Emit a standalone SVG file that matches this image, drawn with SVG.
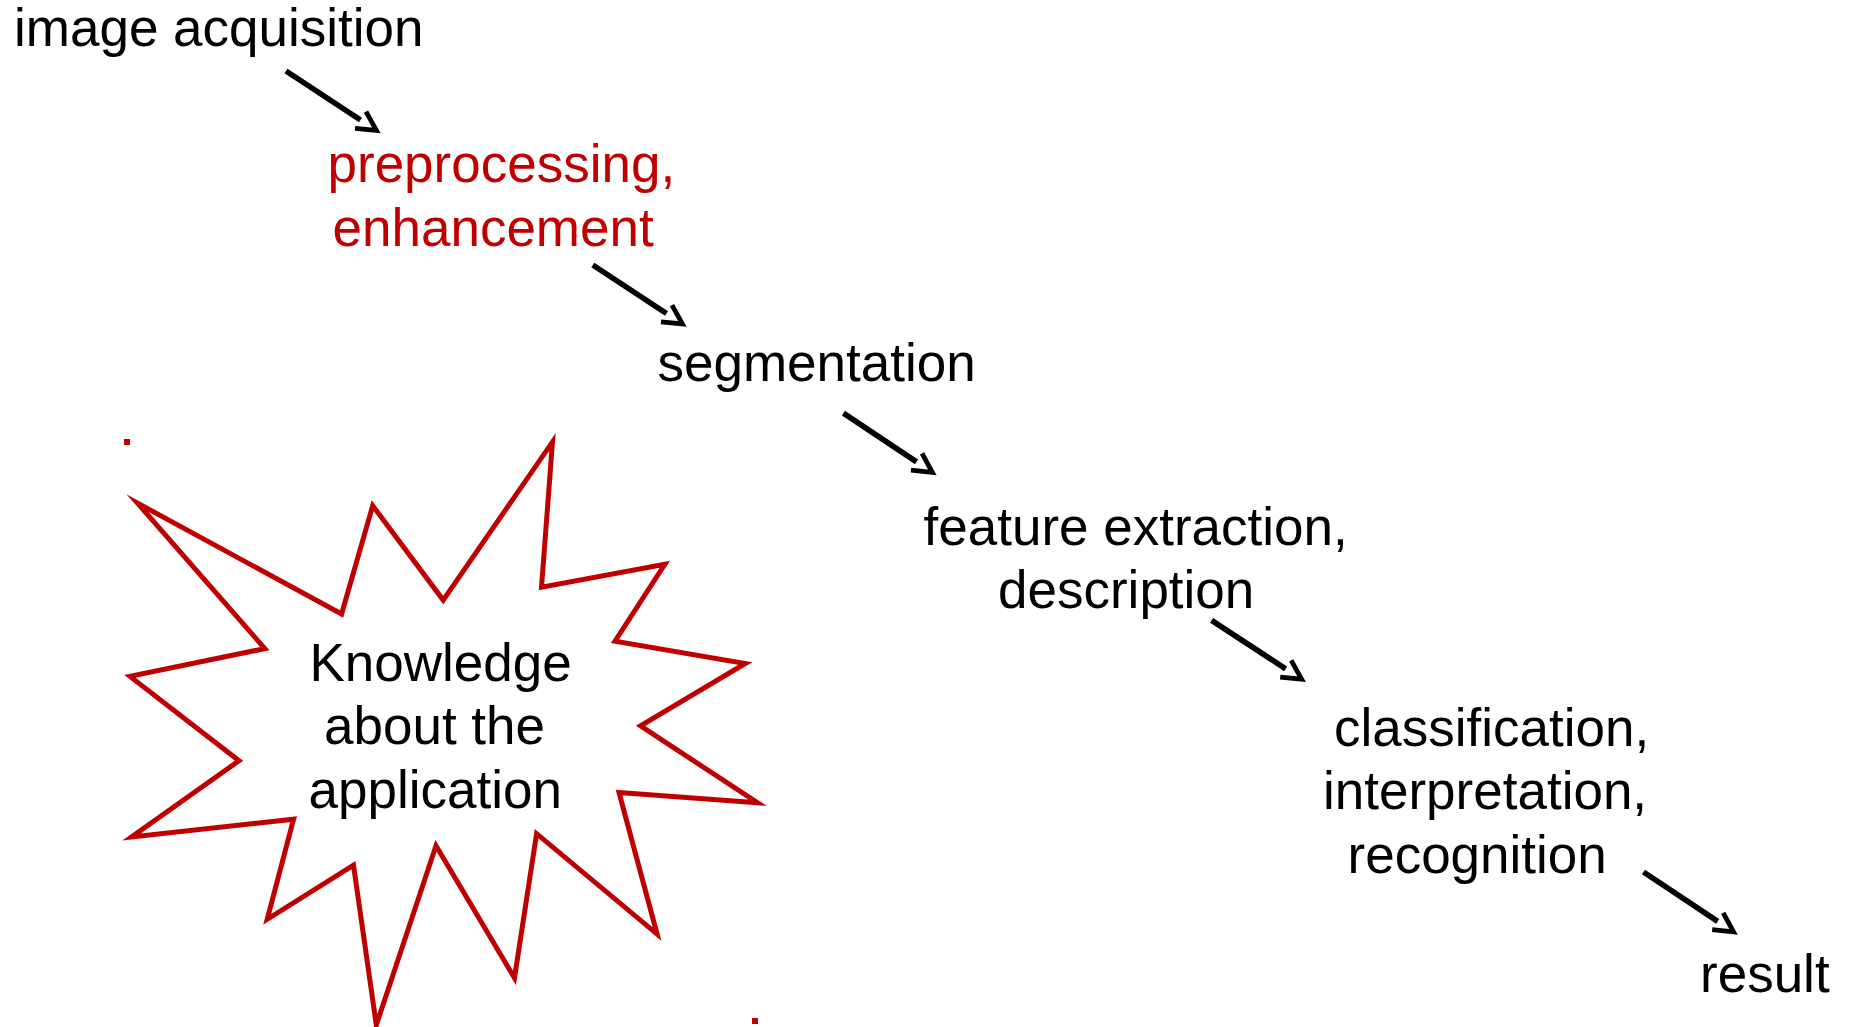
<svg xmlns="http://www.w3.org/2000/svg" width="1850" height="1027" viewBox="0 0 1850 1027">
  <style>
    .t { font-family: "Liberation Sans", Arial, sans-serif; font-size: 53px; fill: #000000; }
    .red { fill: #c00000; }
    .conn { stroke: #000000; stroke-width: 5.6; fill: none; marker-end: url(#ah); }
    .star { fill: #ffffff; stroke: #c00000; stroke-width: 5; stroke-linejoin: miter; stroke-miterlimit: 10; }
  </style>
  <defs>
    <marker id="ah" markerUnits="userSpaceOnUse" orient="auto" refX="0" refY="0" markerWidth="40" markerHeight="40" overflow="visible">
      <path d="M0,-10 L19,0 L0,10" fill="none" stroke="#000000" stroke-width="4.8" stroke-linejoin="miter"/>
    </marker>
  </defs>
  <rect x="0" y="0" width="1850" height="1027" fill="#ffffff"/>

  <g id="knowledge">
    <rect x="124" y="439" width="6" height="6" fill="#c00000"/>
    <rect x="752" y="1018" width="6" height="6" fill="#c00000"/>
    <polygon class="star" points="552.5,441.9 541.5,587.2 664.8,564.3 615,641.2 745.3,663.5 640.5,725.9 757.5,802.7 619,792.5 657.1,934.1 536.6,833.7 514.5,978 436,845.8 376.3,1025 353.5,865.1 267.2,919.3 293.6,819.2 131.5,837 239,760.7 130,676.4 264.8,648.6 137.5,503.1 341.6,614 372.7,505.7 443.2,600.1"/>
    <text class="t" x="309.5" y="680.5">Knowledge</text>
    <text class="t" x="324" y="743.5">about the</text>
    <text class="t" x="308.5" y="807.5">application</text>
  </g>

  <g id="acquisition">
    <text class="t" x="14" y="46">image acquisition</text>
  </g>
  <g id="preprocessing">
    <text class="t red" x="327.5" y="182">preprocessing,</text>
    <text class="t red" x="332.5" y="246">enhancement</text>
  </g>
  <g id="segmentation">
    <text class="t" x="657.5" y="381">segmentation</text>
  </g>
  <g id="features">
    <text class="t" x="923.5" y="545">feature extraction,</text>
    <text class="t" x="998" y="608">description</text>
  </g>
  <g id="classification">
    <text class="t" x="1334" y="745.5">classification,</text>
    <text class="t" x="1323" y="809">interpretation,</text>
    <text class="t" x="1347.5" y="873">recognition</text>
  </g>
  <g id="result">
    <text class="t" x="1700" y="992">result</text>
  </g>

  <g id="connectors">
    <line class="conn" x1="286" y1="71" x2="360.5" y2="120"/>
    <line class="conn" x1="592.8" y1="265" x2="666.5" y2="313.5"/>
    <line class="conn" x1="843.4" y1="413.2" x2="916.5" y2="461.8"/>
    <line class="conn" x1="1211.6" y1="620.3" x2="1285.7" y2="668.8"/>
    <line class="conn" x1="1643.5" y1="872" x2="1717.7" y2="921.3"/>
  </g>
</svg>
